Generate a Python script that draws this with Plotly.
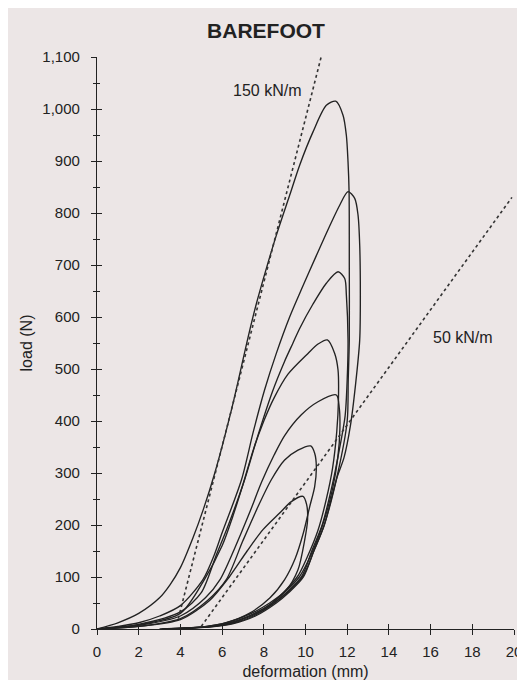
import plotly.graph_objects as go

# ---- data (deformation in mm, load in N) ----
peak_labels = ["1015 N", "841 N", "687 N", "556 N", "450 N", "352 N", "255 N"]

load_x = [
    [0, 1, 2, 3, 3.5, 4, 4.6, 5.1, 5.65, 6.5, 7.24, 7.64, 8.12, 8.6, 9.24, 9.72, 10.36, 11.0, 11.45],
    [0, 1, 2, 3, 4, 5.08, 5.6, 6.0, 6.93, 7.5, 8.04, 8.6, 9.24, 9.88, 10.52, 11.16, 11.64, 12.04],
    [0, 2, 4, 5, 5.7, 6.3, 7.08, 7.7, 8.4, 9.0, 9.4, 9.72, 10.36, 11.0, 11.56],
    [0, 2, 4, 5.15, 6.0, 6.5, 7.0, 7.5, 8.0, 8.5, 9.16, 10.12, 10.6, 11.05],
    [0, 2, 4, 5.2, 5.9, 6.6, 7.3, 7.9, 8.5, 9.0, 9.8, 10.6, 11.48],
    [0, 2, 4, 5.3, 6.2, 7.0, 7.72, 8.36, 9.0, 9.64, 10.25],
    [0, 2, 4, 5.4, 6.36, 7.2, 7.96, 8.76, 9.32, 9.88],
]
load_y = [
    [0, 12, 30, 60, 85, 118, 175, 230, 300, 430, 560, 625, 693, 757, 834, 892, 956, 1007, 1015],
    [0, 5, 12, 25, 45, 95, 140, 185, 287, 380, 460, 530, 600, 660, 718, 775, 815, 841],
    [0, 9, 33, 70, 140, 200, 287, 370, 455, 515, 550, 578, 625, 665, 687],
    [0, 8, 30, 95, 160, 215, 278, 345, 400, 445, 490, 530, 548, 556],
    [0, 7, 25, 60, 95, 155, 222, 283, 335, 372, 412, 437, 450],
    [0, 5, 20, 55, 95, 170, 235, 287, 325, 344, 352],
    [0, 5, 18, 55, 101, 150, 191, 223, 245, 255],
]
unload_x = [
    [11.8, 11.96, 12.04, 12.09, 12.1, 12.1, 12.05, 12.0, 11.55, 10.9, 10.4, 9.9, 9.2, 8.6, 7.6, 6.5, 5.5, 4.5, 3.5],
    [12.36, 12.52, 12.6, 12.63, 12.6, 12.4, 12.15, 11.85, 11.5, 10.9, 10.4, 9.85, 8.5, 7.5, 6.4, 5.4, 4.4, 3.4],
    [11.88, 11.96, 12.04, 12.0, 11.9, 11.6, 11.3, 10.8, 10.3, 9.8, 8.5, 7.4, 6.3, 5.3, 4.3, 3.3],
    [11.4, 11.56, 11.58, 11.5, 11.3, 11.0, 10.6, 10.1, 9.6, 8.4, 7.3, 6.2, 5.2, 4.2, 3.2],
    [11.62, 11.65, 11.55, 11.3, 10.9, 10.4, 9.7, 8.4, 7.3, 6.2, 5.2, 4.2, 3.2],
    [10.44, 10.52, 10.44, 10.2, 9.9, 9.5, 9.0, 8.3, 7.3, 6.2, 5.1, 4.1, 3.1],
    [10.05, 10.1, 9.96, 9.64, 9.08, 8.28, 7.3, 6.2, 5.1, 4.0, 3.0],
]
unload_y = [
    [988, 949, 898, 841, 700, 556, 480, 400, 300, 200, 150, 100, 70, 50, 25, 10, 4, 1.5, 0],
    [828, 796, 738, 642, 556, 470, 390, 330, 290, 200, 150, 100, 50, 25, 10, 4, 1.5, 0],
    [674, 642, 556, 480, 410, 340, 280, 200, 150, 100, 50, 25, 10, 4, 1.5, 0],
    [530, 498, 440, 380, 310, 250, 190, 140, 100, 50, 25, 10, 4, 1.5, 0],
    [425, 385, 330, 270, 210, 155, 100, 50, 25, 10, 4, 1.5, 0],
    [338, 312, 274, 235, 185, 135, 95, 60, 30, 12, 4, 1.5, 0],
    [240, 210, 171, 114, 75, 50, 28, 12, 4, 1.5, 0],
]

# stiffness reference lines (dotted)
stiff_labels = ["150 kN/m", "50 kN/m"]
stiff_x = [[3.9, 10.75], [5.0, 19.9]]
stiff_y = [[20, 1100], [5, 830]]
stiff_label_pos_x = [8.15, 17.55]
stiff_label_pos_y = [1036, 560]

x_ticks = list(range(0, 21, 2))
y_ticks = list(range(0, 1101, 100))

INK = "#222222"
BG = "#ece6e6"
FONT = "Liberation Sans, Arial, sans-serif"

# the page body has an 8 px margin, so the figure is drawn 8 px smaller
W, H = 517, 672

fig = go.Figure()

for lx, ly, ux, uy, name in zip(load_x, load_y, unload_x, unload_y, peak_labels):
    fig.add_trace(go.Scatter(
        x=lx + ux, y=ly + uy, mode="lines", name=name,
        line=dict(color=INK, width=1.35, shape="spline", smoothing=0.8),
        showlegend=False, hoverinfo="skip"))

for sx, sy, name in zip(stiff_x, stiff_y, stiff_labels):
    fig.add_trace(go.Scatter(
        x=sx, y=sy, mode="lines", name=name,
        line=dict(color="#333333", width=1.6, dash="dot"),
        showlegend=False, hoverinfo="skip"))

for tx, ty, name in zip(stiff_label_pos_x, stiff_label_pos_y, stiff_labels):
    fig.add_annotation(x=tx, y=ty, text=name, showarrow=False,
                       font=dict(size=16, color=INK, family=FONT))

# invisible trace to carry the secondary (inside-tick) axes
fig.add_trace(go.Scatter(x=[0], y=[0], xaxis="x2", yaxis="y2", mode="markers",
                         marker=dict(opacity=0), showlegend=False, hoverinfo="skip"))

axis_common = dict(showgrid=False, zeroline=False, tickcolor=INK, tickwidth=1.3,
                   automargin=False)

fig.update_layout(
    width=W, height=H,
    margin=dict(l=89, r=11, t=49, b=51),
    paper_bgcolor=BG, plot_bgcolor=BG,
    font=dict(family=FONT, size=15, color=INK),
    title=dict(text="<b>BAREFOOT</b>", x=(266 - 8) / W, xanchor="center",
               y=1 - 23 / H, yanchor="middle", automargin=False,
               font=dict(size=21, color=INK, family=FONT)),
    xaxis=dict(range=[0, 20], tickvals=x_ticks, ticks="outside", ticklen=5,
               showline=True, linecolor=INK, linewidth=1.3,
               tickfont=dict(size=15), ticklabelstandoff=4,
               title=dict(text="deformation (mm)", standoff=10, font=dict(size=16)),
               **axis_common),
    yaxis=dict(range=[0, 1100], tickvals=y_ticks, tickformat=",d", ticks="outside",
               ticklen=5, showline=True, linecolor=INK, linewidth=1.3,
               ticklabelstandoff=8, tickfont=dict(size=15),
               minor=dict(dtick=50, ticks="outside", ticklen=3, tickcolor=INK),
               title=dict(text="load (N)", standoff=5, font=dict(size=16)),
               **axis_common),
    xaxis2=dict(range=[0, 20], overlaying="x", tickvals=x_ticks, ticks="inside",
                ticklen=5, showticklabels=False, showline=False, **axis_common),
    yaxis2=dict(range=[0, 1100], overlaying="y", tickvals=y_ticks, ticks="inside",
                ticklen=5, showticklabels=False, showline=False,
                minor=dict(dtick=50, ticks="inside", ticklen=3, tickcolor=INK),
                **axis_common),
)

fig.write_html("out.html")
